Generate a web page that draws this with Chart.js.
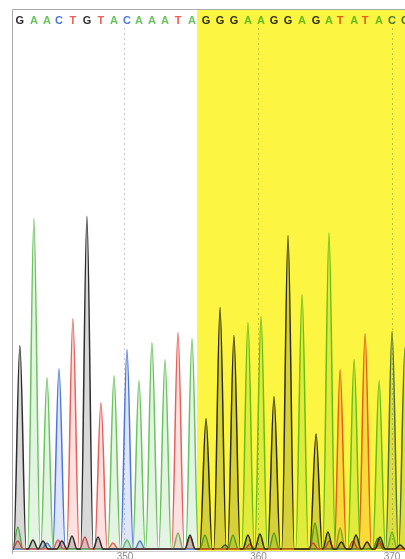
<!DOCTYPE html>
<html>
<head>
<meta charset="utf-8">
<script src="https://cdn.jsdelivr.net/npm/chart.js@4.4.1/dist/chart.umd.min.js"></script>
<style>
  html, body { margin: 0; padding: 0; background: #fff; overflow: hidden; }
  #wrap { position: relative; width: 405px; height: 559px; }
</style>
</head>
<body>
<div id="wrap"><canvas id="trace"></canvas></div>
<script>
// called bases and where their peaks sit on the trace (base position units)
const baseCalls = ['G','A','A','C','T','G','T','A','C','A','A','A','T','A',
                   'G','G','G','A','A','G','G','A','G','A','T','A','T','A','C','C'];
const peakPositions = [342.13, 343.18, 344.16, 345.06, 346.10, 347.15, 348.20, 349.18, 350.15, 351.05,
                       352.02, 353.00, 353.97, 355.02, 356.07, 357.12, 358.16, 359.21, 360.19, 361.16,
                       362.21, 363.26, 364.31, 365.28, 366.11, 367.16, 367.98, 369.03, 370.00, 370.97];
const peakHeights = [203, 330, 171, 180, 230, 332, 146, 173, 199, 168,
                     206, 189, 216, 210, 130, 241, 213, 226, 232, 152,
                     313, 254, 115, 316, 179, 189, 215, 168, 217, 201];

// small background peaks per channel: [position, height]
const noiseA = [[341.98, 22], [350.15, 9], [353.97, 16], [355.99, 14], [358.09, 14],
                [361.16, 16], [364.23, 26], [366.11, 21], [370.00, 17]];
const noiseC = [[344.16, 6], [351.12, 8], [357.50, 4], [368.95, 11]];
const noiseG = [[343.11, 9], [343.86, 8], [345.28, 8], [346.03, 13], [347.98, 12], [354.87, 14],
                [359.21, 14], [360.11, 15], [365.20, 17], [366.20, 7], [367.30, 14], [368.13, 7],
                [369.10, 12], [370.60, 4]];
const noiseT = [[341.98, 8], [344.98, 9], [347.00, 12], [349.10, 6], [354.87, 12], [359.36, 5],
                [364.08, 6], [365.30, 8], [367.08, 8], [369.10, 6]];

const tickValues = [350, 360, 370];
const xMin = 341.54, xMax = 370.97;
const highlightStart = 355.42;

const baseColors = { A: 'rgb(104,196,92)', C: 'rgb(76,118,222)', G: 'rgb(45,45,45)', T: 'rgb(232,96,88)' };
const baseFills = { A: 'rgba(104,196,92,0.18)', C: 'rgba(76,118,222,0.18)', G: 'rgba(0,0,0,0.15)', T: 'rgba(232,96,88,0.18)' };
const peakHalfWidth = 0.47;
const noiseHalfWidth = 0.38;
const boxTop = 9;

function tracePoints(base, noise) {
  const peaks = [];
  baseCalls.forEach((b, i) => {
    if (b === base) peaks.push([peakPositions[i], peakHeights[i], peakHalfWidth]);
  });
  noise.forEach(([p, h]) => peaks.push([p, h, noiseHalfWidth]));
  peaks.sort((a, b) => a[0] - b[0]);
  const pts = [{x: xMin - 1, y: 0}];
  peaks.forEach(([p, h, w]) => {
    const last = pts[pts.length - 1];
    if (p - w > last.x) pts.push({x: p - w, y: 0});
    pts.push({x: p, y: h});
    pts.push({x: p + w, y: 0});
  });
  pts.push({x: xMax + 2, y: 0});
  return pts;
}

function channel(base, noise) {
  return {
    label: base,
    data: tracePoints(base, noise),
    borderColor: baseColors[base],
    backgroundColor: baseFills[base],
    borderWidth: 1.5,
    pointRadius: 0,
    fill: 'origin',
    tension: 0.4,
    cubicInterpolationMode: 'monotone',
  };
}

const traceDecor = {
  id: 'traceDecor',
  afterDatasetsDraw(chart) {
    const {ctx, chartArea, scales: {x}} = chart;
    ctx.save();
    // base calls along the top
    ctx.font = 'bold 11px "Liberation Sans", Arial, sans-serif';
    ctx.textAlign = 'center';
    ctx.textBaseline = 'middle';
    baseCalls.forEach((b, i) => {
      ctx.fillStyle = baseColors[b];
      ctx.fillText(b, x.getPixelForValue(peakPositions[i]), 21);
    });
    // yellow highlight, multiplied over the trace
    const hx = Math.round(x.getPixelForValue(highlightStart));
    ctx.globalCompositeOperation = 'multiply';
    ctx.fillStyle = 'rgb(252,246,66)';
    ctx.fillRect(hx, boxTop, chartArea.right - hx, chartArea.bottom - boxTop);
    ctx.globalCompositeOperation = 'source-over';
    // frame
    ctx.strokeStyle = '#a9a9a9';
    ctx.lineWidth = 1;
    ctx.beginPath();
    ctx.moveTo(chartArea.left + 0.5, chartArea.bottom + 3);
    ctx.lineTo(chartArea.left + 0.5, boxTop + 0.5);
    ctx.lineTo(chartArea.right, boxTop + 0.5);
    ctx.stroke();
    ctx.restore();
  }
};

new Chart(document.getElementById('trace').getContext('2d'), {
  type: 'line',
  data: {
    datasets: [
      channel('G', noiseG),
      channel('T', noiseT),
      channel('A', noiseA),
      channel('C', noiseC),
    ]
  },
  options: {
    events: [],
    animation: false,
    responsive: true,
    maintainAspectRatio: false,
    layout: { padding: { left: 12, top: 28, right: 0, bottom: -5 } },
    scales: {
      x: {
        type: 'linear',
        min: xMin,
        max: xMax,
        afterBuildTicks: (axis) => { axis.ticks = tickValues.map(v => ({value: v})); },
        grid: { color: '#c9c9c9', lineWidth: 1, drawTicks: false },
        border: { display: true, color: '#cfcfcf', dash: [2, 3] },
        ticks: {
          color: '#8a8a8a',
          padding: 4,
          maxRotation: 0,
          font: { family: '"Liberation Sans", Arial, sans-serif', size: 10, lineHeight: 0.5 },
        },
      },
      y: { display: false, min: -2, max: 520 },
    },
    plugins: {
      legend: { display: false },
      tooltip: { enabled: false },
    }
  },
  plugins: [traceDecor]
});
</script>
</body>
</html>
